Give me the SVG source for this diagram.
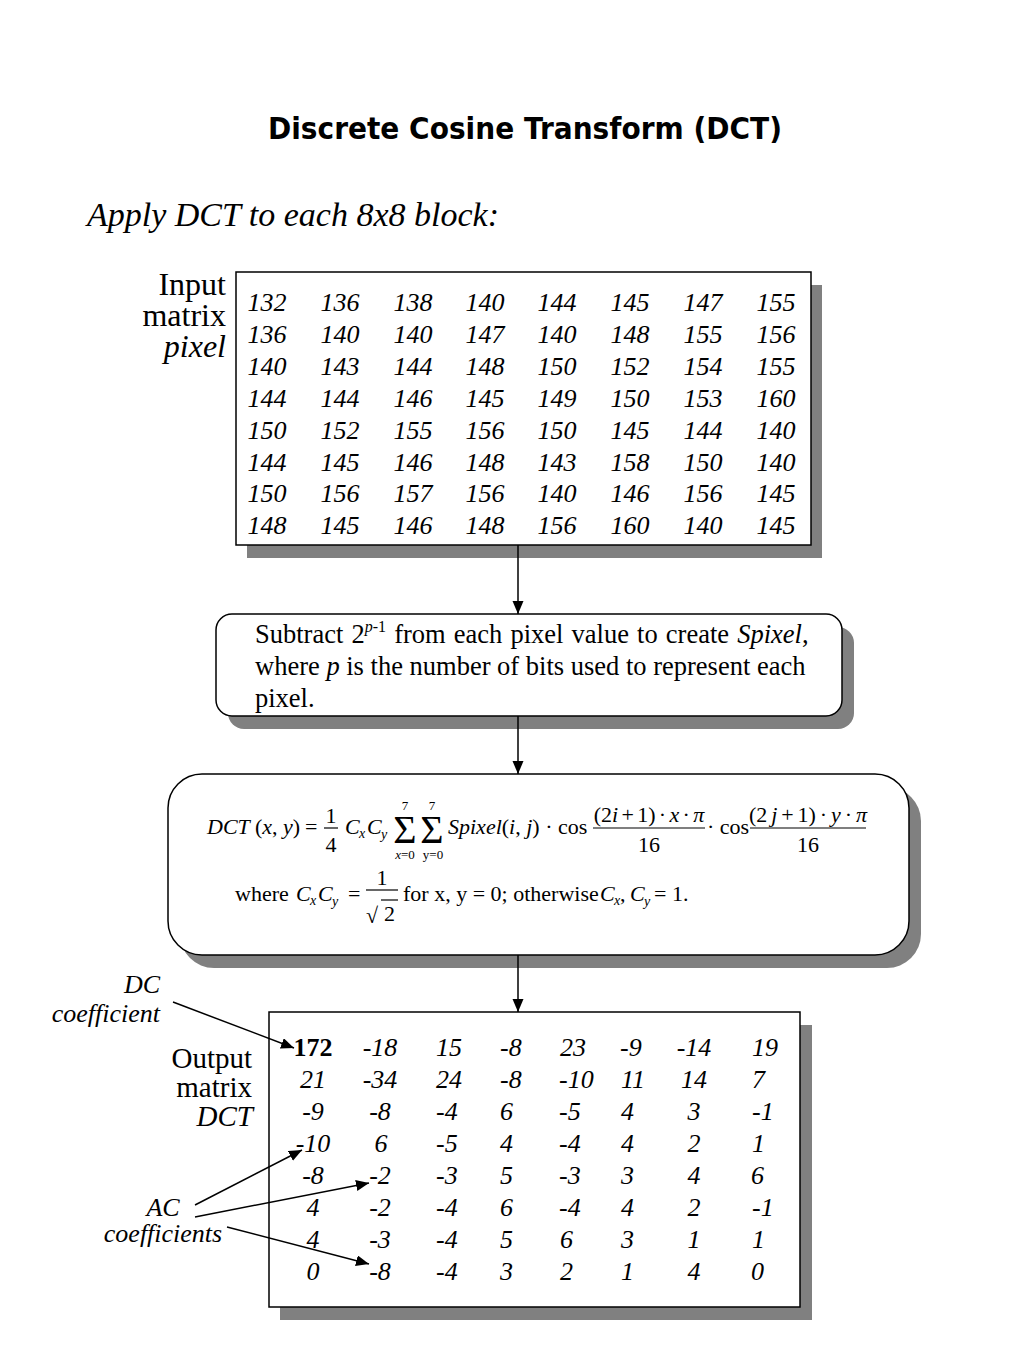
<svg xmlns="http://www.w3.org/2000/svg" width="1024" height="1365" viewBox="0 0 1024 1365">
<style>
.bg{fill:#ffffff}
.shadow{fill:#808080;stroke:none}
.box{fill:#ffffff;stroke:#000000;stroke-width:1.5}
.conn{stroke:#000000;stroke-width:1.5;fill:none}
.t{font-family:"Liberation Serif","Times New Roman",serif;fill:#000000}
.it{font-style:italic}
.title{font-family:"DejaVu Sans","Noto Sans",sans-serif;font-weight:bold;font-size:31px;text-anchor:middle;fill:#000000}
.inum{font-family:"Liberation Serif",serif;font-style:italic;font-size:26px;text-anchor:middle;fill:#000000}
.onum{font-family:"Liberation Serif",serif;font-style:italic;font-size:26px;fill:#000000}
.mid{text-anchor:middle}
.end{text-anchor:end}
.f{font-family:"Liberation Serif","DejaVu Serif",serif;font-size:22px;fill:#000000}
.fs{font-family:"Liberation Serif","DejaVu Serif",serif;font-size:13px;fill:#000000;text-anchor:middle}
.sub{font-family:"Liberation Serif",serif;font-style:italic;font-size:14px;fill:#000000}
.sig{font-family:"Liberation Serif","DejaVu Serif",serif;font-size:40px;fill:#000000;text-anchor:middle}
.bar{stroke:#000000;stroke-width:1.2}
</style>
<defs>
<marker id="ah" markerUnits="userSpaceOnUse" markerWidth="14" markerHeight="12" refX="13" refY="5.5" orient="auto">
<path d="M0,0 L13,5.5 L0,11 Z" fill="#000000"/>
</marker>
</defs>
<rect class="bg" x="0" y="0" width="1024" height="1365"/>

<g id="title">
<text class="title" x="525" y="139" textLength="514" lengthAdjust="spacingAndGlyphs">Discrete Cosine Transform (DCT)</text>
<text class="t it" x="87" y="226" font-size="34">Apply DCT to each 8x8 block:</text>
</g>

<g id="input-label">
<text class="t end" x="226" y="295" font-size="32">Input</text>
<text class="t end" x="226" y="326" font-size="32">matrix</text>
<text class="t it end" x="226" y="357" font-size="32">pixel</text>
</g>

<g id="input-matrix">
<rect class="shadow" x="247" y="285" width="575" height="273"/>
<rect class="box" x="236" y="272" width="575" height="273"/>
<text class="inum" y="311"><tspan x="267">132</tspan><tspan x="340">136</tspan><tspan x="413">138</tspan><tspan x="485">140</tspan><tspan x="557">144</tspan><tspan x="630">145</tspan><tspan x="703">147</tspan><tspan x="776">155</tspan></text>
<text class="inum" y="343"><tspan x="267">136</tspan><tspan x="340">140</tspan><tspan x="413">140</tspan><tspan x="485">147</tspan><tspan x="557">140</tspan><tspan x="630">148</tspan><tspan x="703">155</tspan><tspan x="776">156</tspan></text>
<text class="inum" y="375"><tspan x="267">140</tspan><tspan x="340">143</tspan><tspan x="413">144</tspan><tspan x="485">148</tspan><tspan x="557">150</tspan><tspan x="630">152</tspan><tspan x="703">154</tspan><tspan x="776">155</tspan></text>
<text class="inum" y="407"><tspan x="267">144</tspan><tspan x="340">144</tspan><tspan x="413">146</tspan><tspan x="485">145</tspan><tspan x="557">149</tspan><tspan x="630">150</tspan><tspan x="703">153</tspan><tspan x="776">160</tspan></text>
<text class="inum" y="439"><tspan x="267">150</tspan><tspan x="340">152</tspan><tspan x="413">155</tspan><tspan x="485">156</tspan><tspan x="557">150</tspan><tspan x="630">145</tspan><tspan x="703">144</tspan><tspan x="776">140</tspan></text>
<text class="inum" y="471"><tspan x="267">144</tspan><tspan x="340">145</tspan><tspan x="413">146</tspan><tspan x="485">148</tspan><tspan x="557">143</tspan><tspan x="630">158</tspan><tspan x="703">150</tspan><tspan x="776">140</tspan></text>
<text class="inum" y="502"><tspan x="267">150</tspan><tspan x="340">156</tspan><tspan x="413">157</tspan><tspan x="485">156</tspan><tspan x="557">140</tspan><tspan x="630">146</tspan><tspan x="703">156</tspan><tspan x="776">145</tspan></text>
<text class="inum" y="534"><tspan x="267">148</tspan><tspan x="340">145</tspan><tspan x="413">146</tspan><tspan x="485">148</tspan><tspan x="557">156</tspan><tspan x="630">160</tspan><tspan x="703">140</tspan><tspan x="776">145</tspan></text>
</g>

<g id="subtract-step">
<rect class="shadow" x="228" y="627" width="626" height="102" rx="16"/>
<rect class="box" x="216" y="614" width="626" height="102" rx="16"/>
<text class="t" x="255" y="643" font-size="26.5" word-spacing="1.5">Subtract 2<tspan dy="-11" font-size="16"><tspan font-style="italic">p</tspan>-1</tspan><tspan dy="11"> from each pixel value to create </tspan><tspan font-style="italic">Spixel</tspan>,</text>
<text class="t" x="255" y="675" font-size="26.5">where <tspan font-style="italic">p</tspan> is the number of bits used to represent each</text>
<text class="t" x="255" y="707" font-size="26.5">pixel.</text>
</g>

<g id="dct-formula">
<rect class="shadow" x="180" y="787" width="741" height="181" rx="34"/>
<rect class="box" x="168" y="774" width="741" height="181" rx="34"/>
<text class="f it" x="207" y="834">DCT</text>
<text class="f" x="255" y="834">(<tspan font-style="italic">x</tspan>, <tspan font-style="italic">y</tspan>)</text>
<text class="f" x="305" y="834">=</text>
<text class="f mid" x="331" y="823">1</text>
<line class="bar" x1="324" y1="828" x2="338" y2="828"/>
<text class="f mid" x="331" y="852">4</text>
<text class="f it" x="345" y="834">C</text>
<text class="sub" x="359" y="838">x</text>
<text class="f it" x="367" y="834">C</text>
<text class="sub" x="381" y="839">y</text>
<text class="fs" x="405" y="810">7</text>
<text class="sig" x="405" y="843">Σ</text>
<text class="fs" x="405" y="859"><tspan font-style="italic">x</tspan>=0</text>
<text class="fs" x="432" y="810">7</text>
<text class="sig" x="432" y="843">Σ</text>
<text class="fs" x="433" y="859">y=0</text>
<text class="f" x="448" y="834"><tspan font-style="italic">Spixel</tspan>(<tspan font-style="italic">i</tspan>, <tspan font-style="italic">j</tspan>) · cos</text>
<text class="f mid" x="649" y="822" word-spacing="-2.2">(2<tspan font-style="italic">i</tspan> + 1) · <tspan font-style="italic">x</tspan> · <tspan font-style="italic">π</tspan></text>
<line class="bar" x1="593" y1="828" x2="705" y2="828"/>
<text class="f mid" x="649" y="852">16</text>
<text class="f" x="707" y="834">· cos</text>
<text class="f mid" x="808" y="822" word-spacing="-1.6">(2 <tspan font-style="italic">j</tspan> + 1) · <tspan font-style="italic">y</tspan> · <tspan font-style="italic">π</tspan></text>
<line class="bar" x1="750" y1="828" x2="866" y2="828"/>
<text class="f mid" x="808" y="852">16</text>

<text class="f" x="235" y="901">where</text>
<text class="f it" x="296" y="901">C</text>
<text class="sub" x="310" y="905">x</text>
<text class="f it" x="318" y="901">C</text>
<text class="sub" x="332" y="906">y</text>
<text class="f" x="348" y="901">=</text>
<text class="f mid" x="382" y="885">1</text>
<line class="bar" x1="366" y1="890" x2="398" y2="890"/>
<text class="f" x="366" y="923" font-size="28">√</text>
<line class="bar" x1="381" y1="900" x2="398" y2="900"/>
<text class="f" x="384" y="921">2</text>
<text class="f" x="403" y="901">for x, y = 0; otherwise</text>
<text class="f it" x="600" y="901">C</text>
<text class="sub" x="614" y="905">x</text>
<text class="f" x="620" y="901">,</text>
<text class="f it" x="630" y="901">C</text>
<text class="sub" x="644" y="906">y</text>
<text class="f" x="654" y="901"> = 1.</text>
</g>

<g id="output-label">
<text class="t end" x="252" y="1068" font-size="29">Output</text>
<text class="t end" x="252" y="1097" font-size="29">matrix</text>
<text class="t it end" x="253" y="1126" font-size="29">DCT</text>
</g>

<g id="dc-label">
<text class="t it end" x="160" y="993" font-size="26">DC</text>
<text class="t it end" x="160" y="1022" font-size="26">coefficient</text>
</g>

<g id="ac-label">
<text class="t it mid" x="163" y="1216" font-size="26">AC</text>
<text class="t it mid" x="163" y="1242" font-size="26">coefficients</text>
</g>

<g id="output-matrix">
<rect class="shadow" x="280" y="1025" width="532" height="295"/>
<rect class="box" x="269" y="1012" width="531" height="295"/>
<text class="onum mid"><tspan x="313" y="1056" font-style="normal" font-weight="bold">172</tspan><tspan x="313" y="1088">21</tspan><tspan x="313" y="1120">-9</tspan><tspan x="313" y="1152">-10</tspan><tspan x="313" y="1184">-8</tspan><tspan x="313" y="1216">4</tspan><tspan x="313" y="1248">4</tspan><tspan x="313" y="1280">0</tspan></text>
<text class="onum mid"><tspan x="380" y="1056">-18</tspan><tspan x="380" y="1088">-34</tspan><tspan x="380" y="1120">-8</tspan><tspan x="381" y="1152">6</tspan><tspan x="380" y="1184">-2</tspan><tspan x="380" y="1216">-2</tspan><tspan x="380" y="1248">-3</tspan><tspan x="380" y="1280">-8</tspan></text>
<text class="onum"><tspan x="436" y="1056">15</tspan><tspan x="436" y="1088">24</tspan><tspan x="436" y="1120">-4</tspan><tspan x="436" y="1152">-5</tspan><tspan x="436" y="1184">-3</tspan><tspan x="436" y="1216">-4</tspan><tspan x="436" y="1248">-4</tspan><tspan x="436" y="1280">-4</tspan></text>
<text class="onum"><tspan x="500" y="1056">-8</tspan><tspan x="500" y="1088">-8</tspan><tspan x="500" y="1120">6</tspan><tspan x="500" y="1152">4</tspan><tspan x="500" y="1184">5</tspan><tspan x="500" y="1216">6</tspan><tspan x="500" y="1248">5</tspan><tspan x="500" y="1280">3</tspan></text>
<text class="onum"><tspan x="560" y="1056">23</tspan><tspan x="559" y="1088">-10</tspan><tspan x="559" y="1120">-5</tspan><tspan x="559" y="1152">-4</tspan><tspan x="559" y="1184">-3</tspan><tspan x="559" y="1216">-4</tspan><tspan x="560" y="1248">6</tspan><tspan x="560" y="1280">2</tspan></text>
<text class="onum"><tspan x="620" y="1056">-9</tspan><tspan x="621" y="1088">11</tspan><tspan x="621" y="1120">4</tspan><tspan x="621" y="1152">4</tspan><tspan x="621" y="1184">3</tspan><tspan x="621" y="1216">4</tspan><tspan x="621" y="1248">3</tspan><tspan x="621" y="1280">1</tspan></text>
<text class="onum mid"><tspan x="694" y="1056">-14</tspan><tspan x="694" y="1088">14</tspan><tspan x="694" y="1120">3</tspan><tspan x="694" y="1152">2</tspan><tspan x="694" y="1184">4</tspan><tspan x="694" y="1216">2</tspan><tspan x="694" y="1248">1</tspan><tspan x="694" y="1280">4</tspan></text>
<text class="onum"><tspan x="752" y="1056">19</tspan><tspan x="752" y="1088">7</tspan><tspan x="752" y="1120">-1</tspan><tspan x="752" y="1152">1</tspan><tspan x="751" y="1184">6</tspan><tspan x="752" y="1216">-1</tspan><tspan x="752" y="1248">1</tspan><tspan x="751" y="1280">0</tspan></text>
</g>

<g id="connectors">
<line class="conn" x1="518" y1="545" x2="518" y2="614" marker-end="url(#ah)"/>
<line class="conn" x1="518" y1="716" x2="518" y2="774" marker-end="url(#ah)"/>
<line class="conn" x1="518" y1="955" x2="518" y2="1012" marker-end="url(#ah)"/>
<line class="conn" x1="173" y1="1002" x2="294" y2="1048" marker-end="url(#ah)"/>
<line class="conn" x1="195" y1="1205" x2="302" y2="1150" marker-end="url(#ah)"/>
<line class="conn" x1="195" y1="1217" x2="369" y2="1183" marker-end="url(#ah)"/>
<line class="conn" x1="227" y1="1227" x2="369" y2="1264" marker-end="url(#ah)"/>
</g>
</svg>
